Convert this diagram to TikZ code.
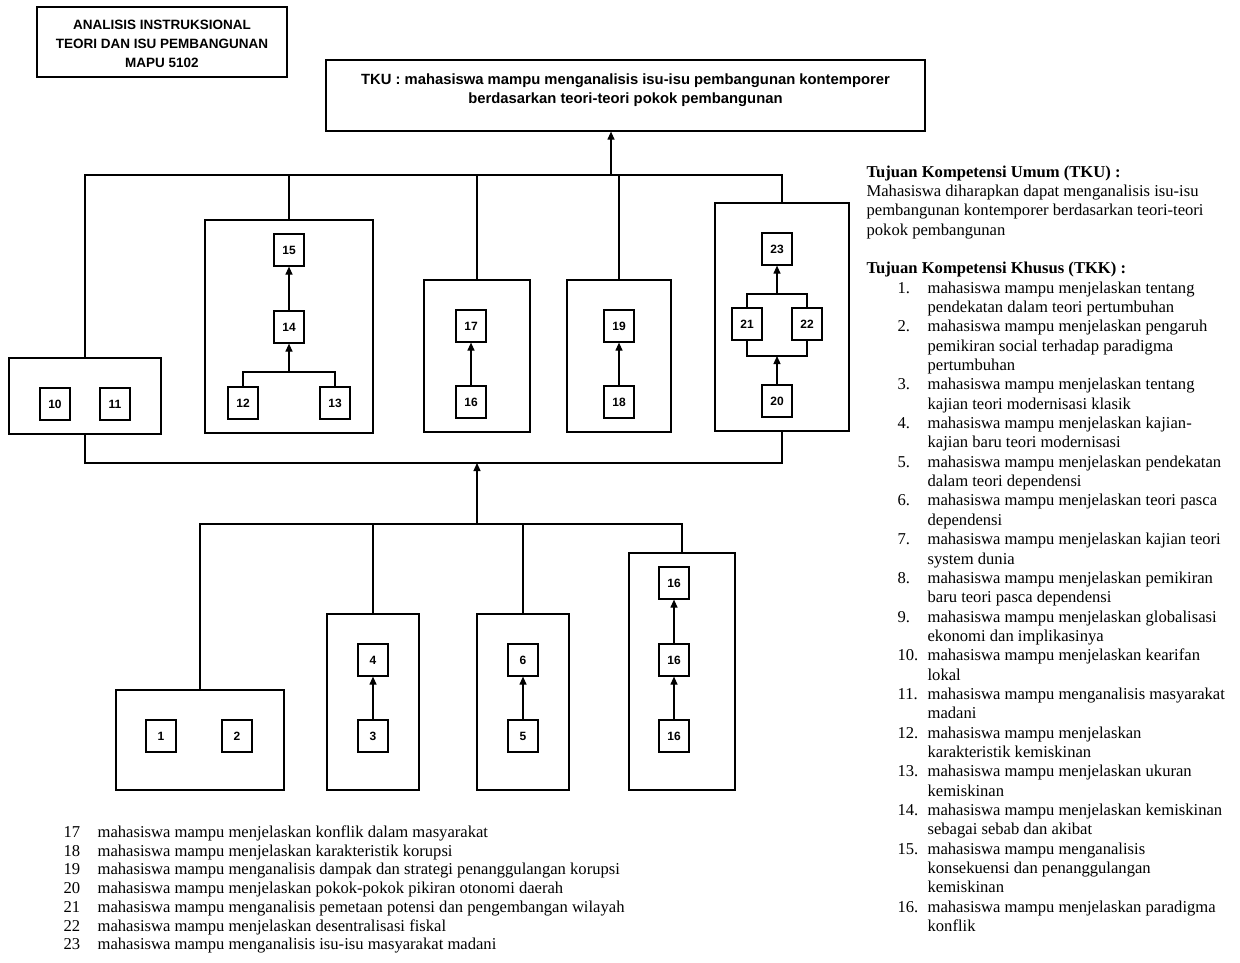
\documentclass[tikz,border=0pt]{standalone}
\usepackage{fontspec}
\setmainfont{Liberation Serif}
\newfontfamily\arialf{Liberation Sans}
\usetikzlibrary{arrows.meta}
\begin{document}
\begin{tikzpicture}[x=1pt,y=-1pt,
  line width=1.2pt,
  num/.style={draw, minimum width=30pt, minimum height=32pt, inner sep=0pt, font=\arialf\bfseries\fontsize{12}{14}\selectfont},
  grp/.style={draw, inner sep=0pt},
  arr/.style={-{Triangle[length=8pt,width=7pt]}},
  boxttl/.style={draw, inner sep=0pt},
  ttltext/.style={inner sep=0pt, align=center, font=\arialf\bfseries\fontsize{13.5}{19}\selectfont},
  bodytext/.style={anchor=base west, inner sep=0pt, font=\fontsize{16.6}{19.35}\selectfont},
]
\useasboundingbox (0,0) rectangle (1240,962);

% title box
\node[boxttl, minimum width=250pt, minimum height=70pt] (titlebox) at (162,42) {};
\node[ttltext] (title) at (162,44) {ANALISIS INSTRUKSIONAL\\TEORI DAN ISU PEMBANGUNAN\\MAPU 5102};

% TKU box
\node[boxttl, minimum width=599pt, minimum height=71pt] (tku) at (625.5,95.5) {};
\node[ttltext, font=\arialf\bfseries\fontsize{14.8}{19}\selectfont] (tkutext) at (625.5,90) {TKU : mahasiswa mampu menganalisis isu-isu pembangunan kontemporer\\berdasarkan teori-teori pokok pembangunan};

% upper groups
\node[grp, minimum width=152pt, minimum height=76pt] (g1011) at (85,396) {};
\node[grp, minimum width=168pt, minimum height=213pt] (g1215) at (289,326.5) {};
\node[grp, minimum width=106pt, minimum height=152pt] (g1716) at (477,356) {};
\node[grp, minimum width=104pt, minimum height=152pt] (g1918) at (619,356) {};
\node[grp, minimum width=134pt, minimum height=228pt] (g2023) at (782,317) {};

\node[num] (n10) at (55,404) {10};
\node[num] (n11) at (115,404) {11};
\node[num] (n15) at (289,250) {15};
\node[num] (n14) at (289,327) {14};
\node[num] (n12) at (243,403) {12};
\node[num] (n13) at (335,403) {13};
\node[num] (n17) at (471,326) {17};
\node[num] (n16u) at (471,402) {16};
\node[num] (n19) at (619,326) {19};
\node[num] (n18) at (619,402) {18};
\node[num] (n23) at (777,249) {23};
\node[num] (n21) at (747,324) {21};
\node[num] (n22) at (807,324) {22};
\node[num] (n20) at (777,401) {20};

% lower groups
\node[grp, minimum width=168pt, minimum height=100pt] (g12) at (200,740) {};
\node[grp, minimum width=92pt, minimum height=176pt] (g43) at (373,702) {};
\node[grp, minimum width=92pt, minimum height=176pt] (g65) at (523,702) {};
\node[grp, minimum width=106pt, minimum height=237pt] (g16) at (682,671.5) {};

\node[num] (n1) at (161,736) {1};
\node[num] (n2) at (237,736) {2};
\node[num] (n4) at (373,660) {4};
\node[num] (n3) at (373,736) {3};
\node[num] (n6) at (523,660) {6};
\node[num] (n5) at (523,736) {5};
\node[num] (b16a) at (674,583) {16};
\node[num] (b16b) at (674,660) {16};
\node[num] (b16c) at (674,736) {16};

% inner connectors
\draw[arr] (n14) -- (n15);
\coordinate (j1) at (289,372);
\draw (n12.north) |- (j1) -| (n13.north);
\draw[arr] (j1) -- (n14);
\draw[arr] (n16u) -- (n17);
\draw[arr] (n18) -- (n19);
\coordinate (j2) at (777,294);
\coordinate (j3) at (777,356);
\draw (n21.north) |- (j2) -| (n22.north);
\draw (n21.south) |- (j3) -| (n22.south);
\draw[arr] (j2) -- (n23);
\draw[arr] (n20) -- (j3);
\draw[arr] (n3) -- (n4);
\draw[arr] (n5) -- (n6);
\draw[arr] (b16c) -- (b16b);
\draw[arr] (b16b) -- (b16a);

% buses
\coordinate (tb) at (611,175);
\draw (g1011.north) |- (tb) -| (g2023.north);
\foreach \g in {g1215,g1716,g1918} \draw (\g.north) -- (\g.north |- tb);
\draw[arr] (tb) -- (tb |- tku.south);
\coordinate (cb) at (477,463);
\draw (g1011.south) |- (cb) -| (g2023.south);
\coordinate (bb) at (477,524);
\draw[arr] (bb) -- (cb);
\draw (g12.north) |- (bb) -| (g16.north);
\foreach \g in {g43,g65} \draw (\g.north) -- (\g.north |- bb);

% right column
\node[bodytext] (tkk) at (866,177) {%
\begin{tabular}[t]{@{}p{31pt}@{}p{30pt}@{}l@{}}
\multicolumn{3}{@{}l@{}}{\textbf{Tujuan Kompetensi Umum (TKU) :}}\\
\multicolumn{3}{@{}l@{}}{Mahasiswa diharapkan dapat menganalisis isu-isu}\\
\multicolumn{3}{@{}l@{}}{pembangunan kontemporer berdasarkan teori-teori}\\
\multicolumn{3}{@{}l@{}}{pokok pembangunan}\\
\multicolumn{3}{@{}l@{}}{}\\
\multicolumn{3}{@{}l@{}}{\textbf{Tujuan Kompetensi Khusus (TKK) :}}\\
 & 1. & mahasiswa mampu menjelaskan tentang\\
 &    & pendekatan dalam teori pertumbuhan\\
 & 2. & mahasiswa mampu menjelaskan pengaruh\\
 &    & pemikiran social terhadap paradigma\\
 &    & pertumbuhan\\
 & 3. & mahasiswa mampu menjelaskan tentang\\
 &    & kajian teori modernisasi klasik\\
 & 4. & mahasiswa mampu menjelaskan kajian-\\
 &    & kajian baru teori modernisasi\\
 & 5. & mahasiswa mampu menjelaskan pendekatan\\
 &    & dalam teori dependensi\\
 & 6. & mahasiswa mampu menjelaskan teori pasca\\
 &    & dependensi\\
 & 7. & mahasiswa mampu menjelaskan kajian teori\\
 &    & system dunia\\
 & 8. & mahasiswa mampu menjelaskan pemikiran\\
 &    & baru teori pasca dependensi\\
 & 9. & mahasiswa mampu menjelaskan globalisasi\\
 &    & ekonomi dan implikasinya\\
 & 10. & mahasiswa mampu menjelaskan kearifan\\
 &    & lokal\\
 & 11. & mahasiswa mampu menganalisis masyarakat\\
 &    & madani\\
 & 12. & mahasiswa mampu menjelaskan\\
 &    & karakteristik kemiskinan\\
 & 13. & mahasiswa mampu menjelaskan ukuran\\
 &    & kemiskinan\\
 & 14. & mahasiswa mampu menjelaskan kemiskinan\\
 &    & sebagai sebab dan akibat\\
 & 15. & mahasiswa mampu menganalisis\\
 &    & konsekuensi dan penanggulangan\\
 &    & kemiskinan\\
 & 16. & mahasiswa mampu menjelaskan paradigma\\
 &    & konflik
\end{tabular}};

% bottom list
\node[bodytext, font=\fontsize{16.6}{18.7}\selectfont] (list2) at (63,837.5) {%
\begin{tabular}[t]{@{}p{34pt}@{}l@{}}
17 & mahasiswa mampu menjelaskan konflik dalam masyarakat\\
18 & mahasiswa mampu menjelaskan karakteristik korupsi\\
19 & mahasiswa mampu menganalisis dampak dan strategi penanggulangan korupsi\\
20 & mahasiswa mampu menjelaskan pokok-pokok pikiran otonomi daerah\\
21 & mahasiswa mampu menganalisis pemetaan potensi dan pengembangan wilayah\\
22 & mahasiswa mampu menjelaskan desentralisasi fiskal\\
23 & mahasiswa mampu menganalisis isu-isu masyarakat madani
\end{tabular}};
\end{tikzpicture}
\end{document}
